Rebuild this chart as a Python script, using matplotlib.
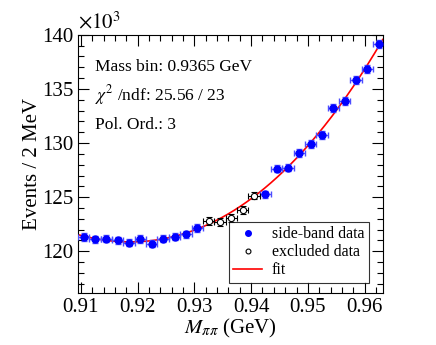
import numpy as np
import matplotlib
matplotlib.use('Agg')
import matplotlib.pyplot as plt
from matplotlib.ticker import MultipleLocator
from matplotlib.lines import Line2D

plt.rcParams['font.family'] = ['Liberation Serif', 'DejaVu Serif']
plt.rcParams['mathtext.fontset'] = 'stix'

# bin centres (GeV) and counts (x10^3)
mass = np.round(np.arange(0.9105, 0.9626, 0.002), 4)
events = np.array([121.31, 121.10, 121.17, 121.01, 120.80, 121.13, 120.71, 121.17,
                   121.35, 121.56, 122.14, 122.82, 122.69, 123.05, 123.83, 125.14,
                   125.26, 127.64, 127.73, 129.06, 129.94, 130.76, 133.21, 133.88,
                   135.84, 136.85, 139.15])
excluded = (mass > 0.9315) & (mass < 0.9415)
err_y = np.sqrt(events * 1000) / 1000
err_x = 0.001

# polinomio de ordem 3 ajustado nas side-bands
coef = np.polyfit(mass[~excluded], events[~excluded], 3)
xfit = np.linspace(0.9095, 0.9632, 300)
yfit = np.polyval(coef, xfit)

fig = plt.figure(figsize=(4.36, 3.45), dpi=100)
ax = fig.add_axes([0.179, 0.151, 0.699, 0.748])

ax.plot(xfit, yfit, color='red', lw=1.2, zorder=2)

sb = ~excluded
ax.errorbar(mass[sb], events[sb], xerr=err_x, yerr=err_y[sb], fmt='o', color='blue',
            ms=5, ecolor=(0.3, 0.3, 1.0), elinewidth=1, capsize=2, zorder=3)
ax.errorbar(mass[excluded], events[excluded], xerr=err_x, yerr=err_y[excluded], fmt='o',
            mfc='white', mec='black', ms=4.5, mew=0.8, ecolor='black', elinewidth=0.8,
            capsize=2, zorder=3)

ax.set_xlim(0.9095, 0.9632)
ax.set_ylim(116.15, 140)
ax.xaxis.set_major_locator(MultipleLocator(0.01))
ax.xaxis.set_minor_locator(MultipleLocator(0.002))
ax.yaxis.set_major_locator(MultipleLocator(5))
ax.yaxis.set_minor_locator(MultipleLocator(1))
ax.set_xticks([0.91, 0.92, 0.93, 0.94, 0.95, 0.96])
ax.set_xticklabels(['0.91', '0.92', '0.93', '0.94', '0.95', '0.96'])
ax.tick_params(which='both', direction='in', top=True, right=True, labelsize=15)
ax.tick_params(which='major', length=8, width=0.8)
ax.tick_params(which='minor', length=4, width=0.8)

ax.set_xlabel(r'$M_{\pi\pi}$ (GeV)', fontsize=15, labelpad=0)
ax.set_ylabel('Events / 2 MeV', fontsize=15, labelpad=0)
fig.text(0.179, 0.905, r'$\times10^{3}$', fontsize=15, ha='left', va='bottom')

ax.text(0.055, 0.875, 'Mass bin: 0.9365 GeV', transform=ax.transAxes, fontsize=12.5, va='center')
ax.text(0.055, 0.765, r'$\chi^{2}$ /ndf: 25.56 / 23', transform=ax.transAxes, fontsize=12.5, va='center')
ax.text(0.055, 0.650, 'Pol. Ord.: 3', transform=ax.transAxes, fontsize=12.5, va='center')

handles = [Line2D([], [], ls='', marker='o', color='blue', ms=4),
           Line2D([], [], ls='', marker='o', mfc='white', mec='black', ms=3.5, mew=0.8),
           Line2D([], [], color='red', lw=1.2)]
leg = ax.legend(handles, ['side-band data', 'excluded data', 'fit'], loc='lower right',
                bbox_to_anchor=(0.955, 0.038), borderaxespad=0, fontsize=11.5, frameon=True,
                fancybox=False, edgecolor='black', handlelength=1.8, borderpad=0.3,
                labelspacing=0.12, handletextpad=0.6)
leg.get_frame().set_linewidth(0.8)

fig.savefig('out.png', dpi=100)
